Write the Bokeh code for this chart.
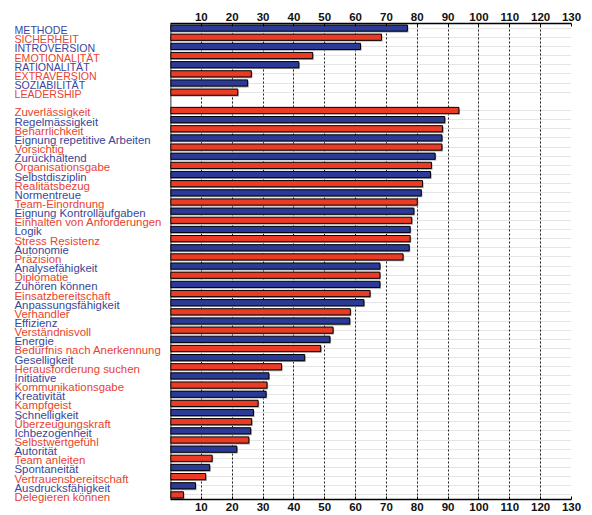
from bokeh.plotting import figure
from bokeh.models import (FactorRange, Range1d, ColumnDataSource, LinearAxis, FixedTicker,
                          Span, Grid, LabelSet)
from bokeh.layouts import row, column
from bokeh.transform import dodge
from bokeh.core.properties import value
from bokeh.embed import file_html
from bokeh.resources import INLINE

scale_labels = ["METHODE", "SICHERHEIT", "INTROVERSION", "EMOTIONALITÄT",
                "RATIONALITÄT", "EXTRAVERSION", "SOZIABILITÄT", "LEADERSHIP"]
scale_values = [76.8, 68.4, 61.6, 46.1, 41.6, 26.2, 25.0, 21.8]

trait_labels = ["Zuverlässigkeit", "Regelmässigkeit", "Beharrlichkeit",
                "Eignung repetitive Arbeiten", "Vorsichtig", "Zurückhaltend",
                "Organisationsgabe", "Selbstdisziplin", "Realitätsbezug", "Normentreue",
                "Team-Einordnung", "Eignung Kontrollaufgaben", "Einhalten von Anforderungen",
                "Logik", "Stress Resistenz", "Autonomie", "Präzision", "Analysefähigkeit",
                "Diplomatie", "Zuhören können", "Einsatzbereitschaft", "Anpassungsfähigkeit",
                "Verhandler", "Effizienz", "Verständnisvoll", "Energie",
                "Bedürfnis nach Anerkennung", "Geselligkeit", "Herausforderung suchen",
                "Initiative", "Kommunikationsgabe", "Kreativität", "Kampfgeist",
                "Schnelligkeit", "Überzeugungskraft", "Ichbezogenheit", "Selbstwertgefühl",
                "Autorität", "Team anleiten", "Spontaneität", "Vertrauensbereitschaft",
                "Ausdrucksfähigkeit", "Delegieren können"]
trait_values = [93.5, 88.9, 88.2, 88.0, 88.0, 85.8, 84.6, 84.3, 81.7, 81.3,
                80.0, 78.9, 78.2, 77.7, 77.7, 77.4, 75.4, 67.9, 67.9, 67.9,
                64.7, 62.7, 58.3, 58.1, 52.7, 51.7, 48.7, 43.5, 36.0, 31.9,
                31.3, 31.0, 28.4, 26.9, 26.3, 26.0, 25.4, 21.5, 13.5, 12.7,
                11.4, 8.1, 4.2]

tick_values = [10, 20, 30, 40, 50, 60, 70, 80, 90, 100, 110, 120, 130]

SPACER = " "
BAR_BLUE = "#2b3a96"
BAR_RED = "#ec3b25"
TXT_BLUE = "#3a4699"
TXT_RED = "#e8432e"
FONT = "Liberation Sans"

rows = scale_labels + [SPACER] + trait_labels
vals = scale_values + [None] + trait_values

labels, values, bar_colors, txt_colors, sizes = [], [], [], [], []
for i, (lab, v) in enumerate(zip(rows, vals)):
    if v is None:
        continue
    labels.append(lab)
    values.append(v)
    blue = (i % 2 == 0)
    bar_colors.append(BAR_BLUE if blue else BAR_RED)
    txt_colors.append(TXT_BLUE if blue else TXT_RED)
    sizes.append("10.6px" if lab.isupper() else "11.4px")

src = ColumnDataSource(dict(label=labels, v=values, color=bar_colors,
                            tcolor=txt_colors, tsize=sizes))

factors = list(reversed(rows))
y_range = FactorRange(factors=factors, range_padding=0)

H = 515
BT, BB = 23, 16
frame_h = H - BT - BB
extra = BB  # extra px on each side of the label panel
label_range = FactorRange(factors=factors, range_padding=2 * extra / frame_h,
                          range_padding_units="percent")

p = figure(width=422, height=H, y_range=y_range, x_range=Range1d(0, 130),
           output_backend="svg", toolbar_location=None,
           x_axis_location=None, y_axis_location=None,
           min_border_left=0, min_border_right=21, min_border_top=BT, min_border_bottom=BB)
p.outline_line_color = None
p.background_fill_color = "white"

p.add_layout(Grid(dimension=0, ticker=FixedTicker(ticks=tick_values),
                  grid_line_dash="2 2", grid_line_color="#222222", grid_line_width=1))

for loc in ("above", "below"):
    ax = LinearAxis(ticker=FixedTicker(ticks=tick_values),
                    major_label_text_font=FONT, major_label_text_font_style="bold",
                    major_label_text_font_size="11.5px", major_label_text_color="#111111",
                    major_tick_in=3, major_tick_out=0, minor_tick_line_color=None,
                    axis_line_width=1.6, axis_line_color="black",
                    major_tick_line_color="black", major_label_standoff=3)
    p.add_layout(ax, loc)

p.add_layout(Span(location=0, dimension="height", line_color="black", line_width=1.6))

p.hbar(y=dodge("label", -0.14, range=y_range), right=dodge("v", 0.35), left=0,
       height=0.68, source=src, fill_color="#a3a3a3", line_color=None)
p.hbar(y="label", right="v", left=0, height=0.68, source=src,
       fill_color="color", line_color="black", line_width=1)

lf = figure(width=170, height=H, y_range=label_range, x_range=Range1d(0, 1),
            output_backend="svg", toolbar_location=None,
            x_axis_location=None, y_axis_location=None,
            min_border_left=0, min_border_right=0,
            min_border_top=BT - extra, min_border_bottom=BB - extra)
lf.outline_line_color = None
lf.grid.visible = False
lf.add_layout(LabelSet(x=14, x_units="screen", y="label", text="label", source=src,
                       text_color="tcolor", text_font_size="tsize",
                       text_font=value(FONT),
                       text_align="left", text_baseline="middle", y_offset=-2))

layout = row(column(lf), column(p))
open("out.html", "w").write(file_html(layout, INLINE))
